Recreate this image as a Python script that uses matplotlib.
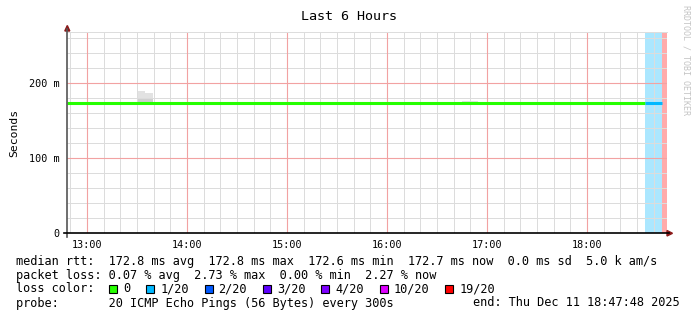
import matplotlib

matplotlib.use("Agg")
import matplotlib.pyplot as plt
from matplotlib.patches import Rectangle, Polygon
from matplotlib.ticker import FixedLocator, FuncFormatter, NullLocator

# ---- data (time in hours of day, rtt in ms) ----
t_start = 12 + 47.8 / 60
t_end = 18 + 47.8 / 60

# median rtt segments, coloured by loss
median_t0 = [t_start, 18.58]
median_t1 = [18.58, 18.75]
median_val = [172.8, 172.7]
median_loss = ["0", "1/20"]

# loss background bands
band_t0 = [18.58, 18.75]
band_t1 = [18.75, t_end]
band_loss = ["1/20", "19/20"]

# smoke (ping spread)
smoke_t0 = [13.497, 13.58, 16.75]
smoke_t1 = [13.58, 13.663, 16.907]
smoke_lo = [172.8, 172.8, 172.8]
smoke_mid = [180.0, 180.0, 174.5]
smoke_hi = [189.0, 187.0, 176.5]

loss_labels = ["0", "1/20", "2/20", "3/20", "4/20", "10/20", "19/20"]
loss_colors = ["#26ff00", "#00b8ff", "#0059ff", "#5e00ff", "#7e00ff", "#dd00ff", "#ff0000"]

hour_ticks = [13, 14, 15, 16, 17, 18]
rtt_ticks = [0, 100, 200]

stats_rtt = "median rtt:  172.8 ms avg  172.8 ms max  172.6 ms min  172.7 ms now  0.0 ms sd  5.0 k am/s"
stats_loss = "packet loss: 0.07 % avg  2.73 % max  0.00 % min  2.27 % now"
probe_txt = "probe:       20 ICMP Echo Pings (56 Bytes) every 300s"
end_txt = "end: Thu Dec 11 18:47:48 2025"
titulo = "Last 6 Hours"

W, H = 697, 321
MONO = "DejaVu Sans Mono"
cor_loss = dict(zip(loss_labels, loss_colors))


def px(x, y):
    return x / W, 1 - y / H


fig = plt.figure(figsize=(W / 100, H / 100), dpi=100)
ax = fig.add_axes([66.7 / W, (H - 233) / H, 600 / W, 201 / H])
ax.set_xlim(t_start, t_end)
ax.set_ylim(0, 268)

for a, b, nome in zip(band_t0, band_t1, band_loss):
    ax.axvspan(a, b, color=cor_loss[nome], alpha=0.33, lw=0, zorder=1)

for a, b, lo, mid, hi in zip(smoke_t0, smoke_t1, smoke_lo, smoke_mid, smoke_hi):
    ax.fill_between([a, b], [mid, mid], [hi, hi], color="#e2e2e2", lw=0, zorder=1.5)
    ax.fill_between([a, b], [lo, lo], [mid, mid], color="#cfcfcf", lw=0, zorder=1.5)

for a, b, v, nome in zip(median_t0, median_t1, median_val, median_loss):
    ax.plot([a, b], [v, v], color=cor_loss[nome], lw=2.2, solid_capstyle="butt", zorder=4)

# grid drawn by hand: gray every 10 min / 20 m, pink on the labelled ticks
min_x = [m / 6 for m in range(12 * 6 + 5, 18 * 6 + 5) if m % 6 != 0]
min_y = [v for v in range(20, 268, 20) if v % 100 != 0]
for xv in min_x:
    ax.axvline(xv, color="#dcdcdc", lw=0.72, zorder=2)
for yv in min_y:
    ax.axhline(yv, color="#dcdcdc", lw=0.72, zorder=2)
for xv in hour_ticks:
    ax.axvline(xv, color="#f2a2a2", lw=0.8, zorder=2.2)
for yv in rtt_ticks[1:]:
    ax.axhline(yv, color="#f2a2a2", lw=0.8, zorder=2.2)

ax.xaxis.set_major_locator(FixedLocator(hour_ticks))
ax.yaxis.set_major_locator(FixedLocator(rtt_ticks))
ax.xaxis.set_minor_locator(NullLocator())
ax.yaxis.set_minor_locator(NullLocator())
ax.xaxis.set_major_formatter(FuncFormatter(lambda v, p: f"{int(round(v)):02d}:00"))
ax.yaxis.set_major_formatter(FuncFormatter(lambda v, p: "0" if v == 0 else f"{v:.0f} m"))
ax.tick_params(which="both", length=0)
ax.tick_params(axis="x", pad=5, labelsize=7.3)
ax.tick_params(axis="y", pad=5, labelsize=7.3)
for lab in ax.get_xticklabels() + ax.get_yticklabels():
    lab.set_fontfamily(MONO)

for s in ax.spines.values():
    s.set_visible(False)
ax.spines["top"].set_visible(True)
ax.spines["top"].set_color("#dddddd")
ax.spines["top"].set_linewidth(0.72)

ax.set_ylabel("Seconds", fontfamily=MONO, fontsize=8.2, labelpad=7)

# axes lines with arrows (drawn in pixel layout)
fig.add_artist(plt.Line2D([px(67.3, 0)[0]] * 2, [px(0, 237)[1], px(0, 29)[1]], color="#555555", lw=1.2))
fig.add_artist(plt.Line2D([px(64, 0)[0], px(669, 0)[0]], [px(0, 233.3)[1]] * 2, color="#000000", lw=1.2))
fig.add_artist(Polygon([px(64.8, 31), px(69.8, 31), px(67.3, 25.5)], closed=True, color="#8b1a1a"))
fig.add_artist(Polygon([px(667, 230.5), px(667, 236), px(672.5, 233.3)], closed=True, color="#8b1a1a"))

# title and watermark
fig.text(*px(349, 16), titulo, ha="center", va="center", fontfamily=MONO, fontsize=9.6)
fig.text(*px(686, 5), "RRDTOOL / TOBI OETIKER", ha="center", va="top", rotation=270,
         fontfamily=MONO, fontsize=6, color="#c4c4c4")

# legend block
fs = 8.55
cw = 7.1
fig.text(*px(16, 261), stats_rtt, ha="left", va="center", fontfamily=MONO, fontsize=fs)
fig.text(*px(16, 275), stats_loss, ha="left", va="center", fontfamily=MONO, fontsize=fs)
fig.text(*px(16, 289), "loss color:", ha="left", va="center", fontfamily=MONO, fontsize=fs)
xb = 109
for nome, cor in zip(loss_labels, loss_colors):
    x0, y0 = px(xb, 293)
    fig.add_artist(Rectangle((x0, y0), 8 / W, 8 / H, facecolor=cor, edgecolor="black", lw=0.8))
    fig.text(*px(xb + 14, 289), nome, ha="left", va="center", fontfamily=MONO, fontsize=fs)
    xb = xb + 14 + cw * len(nome) + 16
fig.text(*px(16, 303), probe_txt, ha="left", va="center", fontfamily=MONO, fontsize=fs)
fig.text(*px(680, 303), end_txt, ha="right", va="center", fontfamily=MONO, fontsize=fs)

fig.savefig("out.png", dpi=100, facecolor="white")
